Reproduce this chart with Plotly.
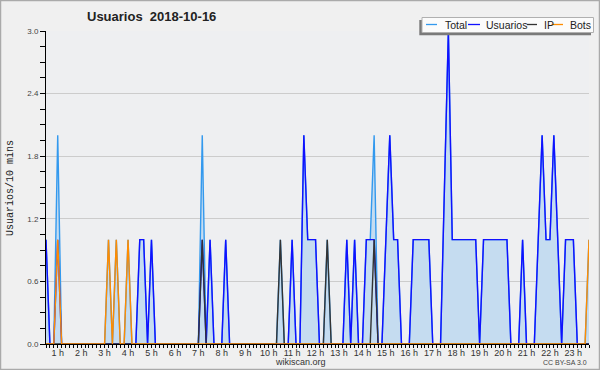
import plotly.graph_objects as go

# ---- data (10-minute slots) ----
n_slots = 140
usuarios_pts = {0: 1, 3: 1, 24: 1, 25: 1, 27: 1, 40: 1, 42: 1, 46: 1, 63: 1,
                66: 2, 67: 1, 68: 1, 69: 1, 77: 1, 79: 1, 82: 1, 83: 1, 84: 1,
                87: 1, 88: 2, 89: 1, 90: 1, 94: 1, 95: 1, 96: 1, 97: 1, 98: 1,
                102: 1.5, 103: 3, 104: 1, 105: 1, 106: 1, 107: 1, 108: 1, 109: 1, 110: 1,
                112: 1, 113: 1, 114: 1, 115: 1, 116: 1, 117: 1, 118: 1,
                122: 1, 126: 1, 127: 2, 128: 1, 129: 1, 130: 2, 131: 1,
                133: 1, 134: 1, 135: 1}
ip_pts = {40: 1, 60: 1, 72: 1, 84: 1}
bots_pts = {3: 1, 16: 1, 18: 1, 21: 1, 139: 1}

slots = list(range(n_slots))
usuarios = [usuarios_pts.get(i, 0) for i in slots]
ip = [ip_pts.get(i, 0) for i in slots]
bots = [bots_pts.get(i, 0) for i in slots]
total = [usuarios[i] + ip[i] + bots[i] for i in slots]

hour_labels = [f"{h} h" for h in range(1, 24)]
hour_pos = [6 * h - 3 for h in range(1, 24)]
y_ticks = [0, 0.6, 1.2, 1.8, 2.4, 3.0]
y_labels = ["0.0", "0.6", "1.2", "1.8", "2.4", "3.0"]

# ---- layout geometry ----
W, H = 600, 370
L, R, T, B = 46, 11, 31, 26
PW, PH = W - L - R, H - T - B


def px(x):
    return (x - L) / PW


def py(y):
    return (H - B - y) / PH


C_TOTAL = "#3399ee"
C_USU = "#1010ff"
C_IP = "#333333"
C_BOTS = "#ff8c00"

fig = go.Figure()
fig.add_trace(go.Scatter(x=slots, y=total, mode="lines", fill="tozeroy",
                         fillcolor="#c5dcf0", line=dict(color=C_TOTAL, width=1.4),
                         showlegend=False, name="Total"))
fig.add_trace(go.Scatter(x=slots, y=usuarios, mode="lines",
                         line=dict(color=C_USU, width=1.4), showlegend=False, name="Usuarios"))
fig.add_trace(go.Scatter(x=slots, y=ip, mode="lines",
                         line=dict(color=C_IP, width=1.4), showlegend=False, name="IP"))
fig.add_trace(go.Scatter(x=slots, y=bots, mode="lines",
                         line=dict(color=C_BOTS, width=1.4), showlegend=False, name="Bots"))

shapes = []
annotations = []

# outer border
shapes.append(dict(type="rect", xref="paper", yref="paper", x0=px(0.5), x1=px(W - 0.5),
                   y0=py(0.5), y1=py(H - 0.5), line=dict(color="#aaaaaa", width=1.5),
                   layer="above"))

# legend shadow + box
shapes.append(dict(type="rect", xref="paper", yref="paper", x0=px(419.3), x1=px(591),
                   y0=py(20), y1=py(35.2), fillcolor="#7a7a7a", line=dict(width=0),
                   layer="above"))
shapes.append(dict(type="rect", xref="paper", yref="paper", x0=px(422), x1=px(593.5),
                   y0=py(17.5), y1=py(32.5), fillcolor="#fbfbfb",
                   line=dict(color="#b0b0b0", width=1), layer="above"))

legend_items = [("Total", C_TOTAL, 426, 437, 443), ("Usuarios", C_USU, 468, 480, 484),
                ("IP", C_IP, 527, 537, 541.5), ("Bots", C_BOTS, 551.5, 563, 568)]
for name, col, lx0, lx1, tx in legend_items:
    shapes.append(dict(type="line", xref="paper", yref="paper", x0=px(lx0), x1=px(lx1),
                       y0=py(24.5), y1=py(24.5), line=dict(color=col, width=1.3),
                       layer="above"))
    annotations.append(dict(x=px(tx), y=py(24.8), xref="paper", yref="paper", text=name,
                            showarrow=False, xanchor="left", yanchor="middle",
                            font=dict(family="Liberation Sans", size=10.5, color="#222222")))

# title
annotations.append(dict(x=px(151), y=py(16.5), xref="paper", yref="paper",
                        text="<b>Usuarios  2018-10-16</b>", showarrow=False,
                        xanchor="center", yanchor="middle",
                        font=dict(family="Liberation Sans", size=13, color="#222222")))
# y axis title
annotations.append(dict(x=px(10), y=py(188), xref="paper", yref="paper",
                        text="Usuarios/10 mins", showarrow=False, textangle=-90,
                        xanchor="center", yanchor="middle",
                        font=dict(family="Liberation Mono", size=10, color="#222222")))
# footer
annotations.append(dict(x=px(300.5), y=py(362), xref="paper", yref="paper",
                        text="wikiscan.org", showarrow=False, xanchor="center",
                        yanchor="middle",
                        font=dict(family="Liberation Sans", size=9, color="#333333")))
annotations.append(dict(x=px(589), y=py(362.5), xref="paper", yref="paper",
                        text="CC BY-SA 3.0", showarrow=False, xanchor="right",
                        yanchor="middle",
                        font=dict(family="Liberation Sans", size=7, color="#444444")))

fig.update_layout(
    width=W, height=H,
    margin=dict(l=L, r=R, t=T, b=B, pad=0),
    paper_bgcolor="#f0f0f0",
    plot_bgcolor="#eeeff1",
    showlegend=False,
    shapes=shapes,
    annotations=annotations,
    xaxis=dict(range=[0, n_slots - 1], tickmode="array", tickvals=hour_pos,
               ticktext=hour_labels, ticks="outside", ticklen=3, tickcolor="black",
               tickwidth=1, showgrid=False, zeroline=False, showline=True,
               linecolor="black", linewidth=1, ticklabelstandoff=-3,
               tickfont=dict(family="Liberation Sans", size=9, color="#333333"),
               minor=dict(tickmode="array", tickvals=slots, ticks="outside", ticklen=3,
                          tickcolor="black", tickwidth=1, showgrid=False)),
    yaxis=dict(range=[0, 3.0], tickmode="array", tickvals=y_ticks, ticktext=y_labels,
               ticks="outside", ticklen=5, tickcolor="black", tickwidth=1,
               showgrid=True, gridcolor="#cccccc", gridwidth=1, zeroline=False,
               showline=True, linecolor="black", linewidth=1,
               tickfont=dict(family="Liberation Sans", size=8, color="#444444"),
               minor=dict(tickmode="linear", tick0=0, dtick=0.15, ticks="outside",
                          ticklen=5, tickcolor="black", tickwidth=1, showgrid=False)),
)

fig.write_html("out.html")
